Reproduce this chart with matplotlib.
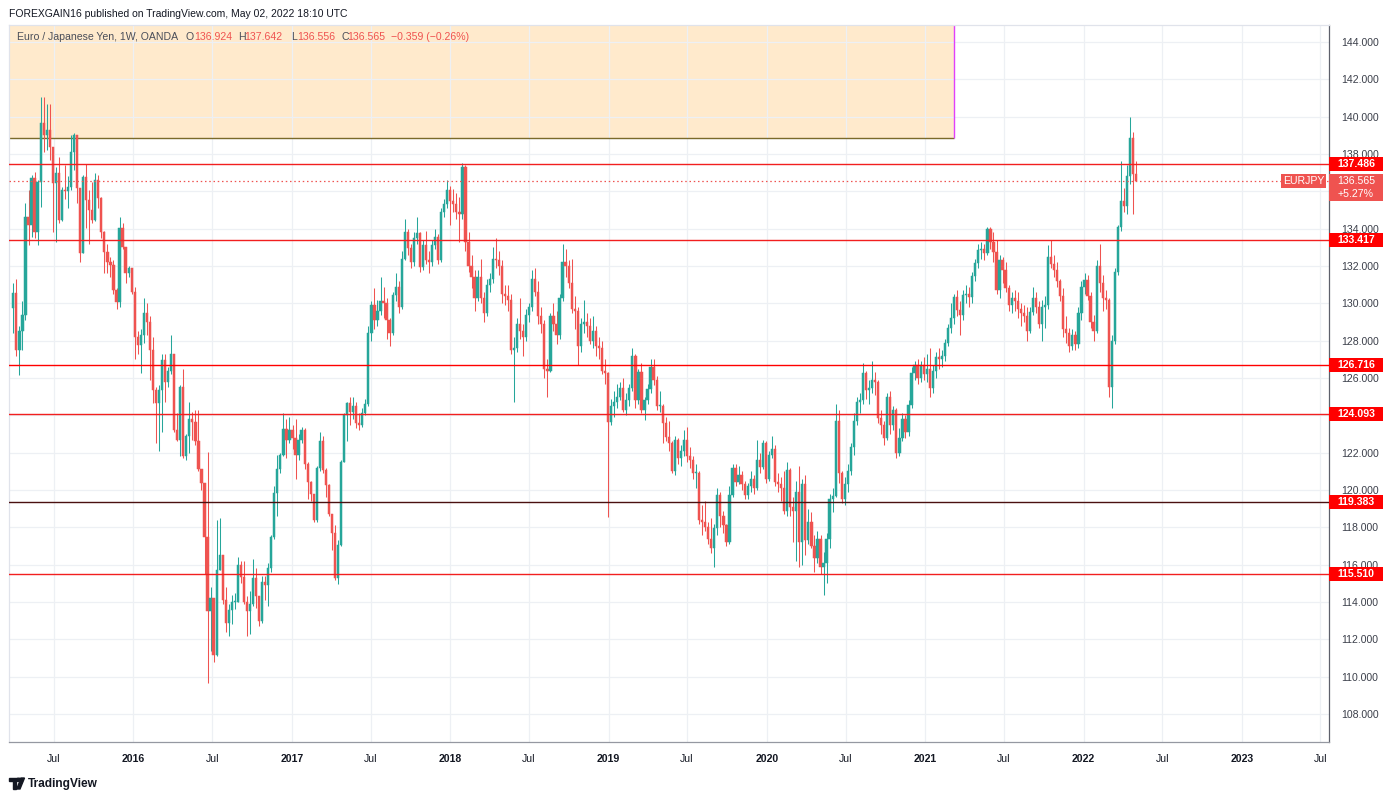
import numpy as np
import pandas as pd
import matplotlib
matplotlib.use("Agg")
import matplotlib.pyplot as plt
import matplotlib.dates as mdates
from matplotlib.patches import Rectangle, Polygon, Circle
from matplotlib.transforms import blended_transform_factory

plt.rcParams['font.family'] = ['Liberation Sans', 'DejaVu Sans']

W, H = 1397, 800

# =============================================================================
# Data: EURJPY weekly candles (OANDA), weeks starting 2015-03-30 .. 2022-05-02
# open of each week = close of the week before
# =============================================================================
FIRST_WEEK = "2015-03-30"
FIRST_OPEN = 129.73

closes = [
    # 2015
    130.57, 127.50, 128.50, 129.40, 134.64, 134.20, 136.70, 133.84, 136.52, 139.64,
    139.02, 139.29, 138.40, 136.43, 136.97, 134.47, 136.07, 136.00, 136.25, 138.13,
    139.02, 136.16, 132.68, 136.75, 135.54, 135.00, 134.47, 136.60, 135.63, 133.84,
    132.77, 132.23, 132.05, 130.70, 130.05, 134.02, 133.04, 131.61, 131.88, 130.63,
    # 2016
    128.20, 127.77, 128.30, 129.50, 129.00, 127.50, 125.36, 124.64, 125.36, 126.96,
    125.80, 126.35, 127.30, 123.20, 122.70, 125.50, 121.80, 122.90, 123.80, 123.65,
    122.60, 121.10, 120.35, 117.50, 113.50, 114.20, 111.16, 115.70, 116.50, 114.10,
    112.90, 113.57, 114.00, 114.00, 116.00, 115.36, 114.00, 113.50, 113.90, 115.27,
    114.30, 113.00, 115.09, 114.90, 115.80, 117.50, 119.82, 121.10, 121.87, 123.25,
    # 2017
    122.70, 123.20, 122.80, 121.87, 122.70, 123.20, 121.40, 120.45, 119.77, 118.39,
    121.16, 122.60, 121.07, 120.27, 118.70, 117.68, 115.27, 117.05, 121.52, 124.00,
    124.64, 124.20, 124.50, 123.57, 123.50, 124.10, 124.60, 128.40, 129.90, 129.10,
    129.60, 130.10, 130.00, 129.10, 128.40, 130.45, 130.85, 129.80, 132.40, 133.84,
    132.95, 132.20, 133.50, 133.75, 131.96, 133.10, 132.30, 132.20, 133.10, 133.55,
    132.30, 134.90, 135.30, 136.07, 135.50, 135.30,
    # 2018
    134.90, 134.80, 137.29, 133.30,
    132.00, 131.40, 130.30, 131.40, 130.30, 129.50, 131.00, 131.30, 132.40, 132.30,
    132.00, 130.50, 130.40, 130.20, 127.50, 127.60, 128.90, 128.50, 128.20, 129.40,
    129.80, 131.30, 130.60, 129.30, 128.90, 126.50, 126.40, 129.30, 128.90, 128.30,
    130.30, 132.20, 132.00, 131.10, 129.70, 129.60, 127.70, 128.90, 129.00, 128.80,
    128.00, 128.50, 127.70, 127.60, 126.40, 126.25,
    # 2019
    123.66, 124.50, 124.70, 125.00,
    125.45, 124.30, 124.80, 125.45, 127.20, 124.80, 126.30, 124.30, 124.80, 125.40,
    126.60, 125.90, 124.50, 124.50, 123.60, 122.86, 122.50, 121.00, 122.70, 121.70,
    122.10, 122.70, 121.80, 121.60, 120.90, 120.90, 118.40, 118.30, 118.00, 117.40,
    116.90, 117.95, 119.73, 118.60, 118.10, 117.20, 119.73, 121.16, 120.45, 120.80,
    120.30, 119.73, 120.20, 120.60, 120.10, 121.60, 121.25, 122.50,
    # 2020
    120.60, 121.90,
    122.20, 120.45, 120.30, 120.10, 118.90, 121.07, 119.10, 118.90, 119.90, 117.20,
    120.30, 117.30, 118.30, 117.00, 116.34, 117.40, 115.90, 116.10, 117.40, 119.50,
    119.70, 123.70, 120.90, 119.50, 120.30, 121.00, 122.30, 123.70, 124.70, 124.80,
    126.25, 125.36, 125.45, 125.90, 125.80, 123.84, 123.50, 122.80, 125.00, 123.50,
    124.30, 122.00, 122.80, 123.80, 123.10, 124.55, 126.25, 126.70, 126.00, 126.70,
    # 2021
    126.20, 126.50, 125.45, 126.40, 127.10, 127.00, 127.20, 127.86, 128.66, 129.20,
    130.36, 129.64, 129.40, 130.45, 130.50, 130.35, 131.46, 132.14, 132.86, 132.90,
    132.70, 133.96, 133.30, 132.77, 130.70, 132.30, 131.80, 130.80, 129.90, 130.30,
    130.10, 129.70, 129.50, 129.30, 128.50, 129.55, 130.30, 129.80, 128.90, 129.80,
    129.90, 132.50, 132.10, 131.80, 131.20, 130.40, 128.60, 128.40, 127.70, 128.30,
    127.80, 129.50,
    # 2022
    130.90, 131.25, 130.40, 129.00, 128.50, 132.00, 131.10, 130.30,
    130.20, 125.50, 128.00, 131.70, 134.10, 135.50, 135.20, 136.80, 138.84, 136.924,
    136.565,
]

highs = [
    131.07, 131.30, 128.80, 130.14, 135.36, 136.07, 136.88, 137.05, 136.61, 141.07,
    141.07, 140.70, 140.70, 138.40, 137.30, 137.86, 136.25, 137.40, 136.80, 139.00,
    139.10, 139.02, 136.16, 136.90, 137.47, 136.07, 136.50, 136.97, 136.88, 135.70,
    133.90, 133.20, 132.50, 132.30, 130.80, 134.64, 134.30, 133.04, 132.00, 131.90,
    130.90, 128.50, 128.60, 130.30, 130.00, 129.30, 128.20, 125.50, 125.60, 127.30,
    127.30, 126.60, 128.30, 127.30, 124.10, 125.60, 126.50, 123.00, 124.70, 124.20,
    124.30, 124.30, 121.10, 120.40, 122.05, 114.80, 114.20, 118.40, 118.50, 116.50,
    114.80, 113.90, 114.40, 114.50, 116.40, 116.20, 116.20, 114.30, 114.60, 116.30,
    115.80, 114.30, 115.40, 115.40, 116.10, 117.60, 120.20, 121.90, 122.00, 124.10,
    123.80, 123.90, 123.50, 123.80, 123.00, 123.40, 123.30, 121.50, 120.50, 119.80,
    121.30, 123.10, 122.90, 121.20, 120.30, 118.70, 118.10, 117.30, 121.60, 124.10,
    124.70, 125.00, 125.00, 124.70, 124.10, 124.40, 124.90, 128.80, 130.10, 130.80,
    130.20, 131.40, 130.90, 130.30, 129.20, 130.60, 131.60, 131.20, 132.80, 134.50,
    134.00, 133.20, 133.80, 134.60, 133.80, 133.40, 133.90, 132.80, 133.40, 134.00,
    133.70, 135.10, 135.60, 136.60, 136.30, 136.10, 135.90, 135.70, 137.50, 137.40,
    133.80, 132.60, 131.80, 131.80, 132.40, 130.60, 131.30, 131.60, 133.00, 133.50,
    132.80, 132.30, 131.00, 131.00, 130.50, 128.20, 129.20, 130.30, 128.90, 129.70,
    130.00, 131.80, 131.90, 131.20, 129.80, 129.10, 127.00, 129.50, 130.00, 129.60,
    130.50, 133.20, 132.90, 132.30, 132.40, 130.40, 129.80, 129.20, 130.20, 129.50,
    129.20, 129.30, 128.80, 128.20, 128.00, 127.00, 126.30, 124.90, 125.30, 125.70,
    125.80, 125.98, 125.20, 125.70, 127.60, 127.30, 126.50, 126.80, 125.00, 125.70,
    127.00, 127.00, 126.10, 125.30, 124.60, 123.90, 123.70, 122.60, 122.90, 122.80,
    122.40, 123.20, 123.40, 122.30, 121.80, 121.40, 121.00, 119.20, 119.40, 118.30,
    118.50, 118.20, 120.10, 119.90, 118.90, 118.20, 120.20, 121.40, 121.40, 121.30,
    121.00, 120.50, 120.40, 121.00, 120.80, 122.70, 122.00, 122.70, 122.60, 122.10,
    122.90, 122.40, 120.90, 120.70, 121.00, 121.50, 121.20, 119.60, 120.50, 121.30,
    120.60, 120.80, 119.00, 118.80, 117.60, 117.80, 117.60, 116.70, 117.70, 119.80,
    120.10, 124.60, 124.30, 121.00, 120.70, 121.40, 122.50, 124.10, 125.00, 125.20,
    126.80, 126.40, 125.90, 126.90, 126.30, 125.90, 124.30, 123.70, 125.20, 125.30,
    124.50, 124.40, 123.30, 124.10, 124.00, 124.80, 126.60, 126.90, 127.00, 126.90,
    127.10, 127.30, 127.60, 126.70, 127.40, 127.60, 127.50, 128.10, 128.90, 130.00,
    130.50, 130.70, 130.10, 130.70, 131.00, 130.90, 131.70, 132.40, 133.20, 133.30,
    133.20, 134.10, 134.10, 133.80, 133.40, 132.60, 132.50, 132.20, 131.00, 130.60,
    130.70, 130.60, 130.00, 129.90, 129.80, 129.80, 130.90, 130.60, 130.10, 130.20,
    130.40, 133.10, 133.40, 132.60, 132.20, 131.30, 130.80, 129.30, 128.70, 128.60,
    128.50, 129.80, 131.20, 131.60, 131.50, 130.60, 129.40, 132.30, 133.20, 131.50,
    130.70, 130.30, 128.30, 131.90, 134.20, 137.60, 136.20, 137.40, 140.00, 139.20,
    137.642,
]

lows = [
    128.43, 127.20, 126.16, 127.50, 129.10, 133.13, 133.57, 133.48, 133.13, 135.18,
    138.13, 138.20, 137.70, 133.84, 133.30, 134.30, 134.40, 135.60, 135.10, 136.07,
    137.15, 135.36, 132.23, 132.68, 134.02, 133.20, 134.30, 134.40, 135.10, 133.50,
    131.61, 131.60, 131.40, 130.50, 129.70, 129.80, 132.90, 131.08, 131.40, 130.50,
    127.00, 127.30, 126.25, 127.90, 128.30, 125.90, 124.64, 122.50, 122.10, 123.10,
    124.70, 125.50, 126.20, 123.10, 122.60, 121.80, 121.70, 121.60, 122.00, 122.70,
    122.40, 121.00, 120.00, 115.50, 109.64, 111.40, 110.80, 111.10, 115.70, 113.90,
    112.40, 112.20, 112.80, 113.60, 114.00, 115.00, 113.90, 112.20, 112.30, 113.80,
    113.70, 112.70, 112.90, 114.10, 113.80, 115.60, 117.40, 118.60, 120.90, 121.80,
    121.70, 122.50, 122.20, 120.60, 121.60, 122.50, 121.10, 119.50, 119.40, 118.30,
    118.30, 121.00, 120.90, 119.60, 118.60, 116.80, 115.20, 114.95, 117.00, 121.50,
    122.60, 123.50, 123.80, 123.30, 123.20, 123.40, 124.00, 124.50, 128.00, 128.60,
    128.80, 129.40, 129.20, 128.10, 127.70, 128.30, 130.10, 129.50, 129.70, 132.30,
    132.60, 131.90, 132.00, 133.20, 131.70, 131.80, 132.10, 131.60, 132.00, 132.90,
    132.10, 132.20, 134.60, 135.10, 134.20, 134.90, 134.50, 133.30, 134.50, 132.80,
    131.70, 130.80, 129.60, 130.10, 130.00, 129.00, 129.30, 130.60, 131.10, 131.90,
    131.50, 130.00, 129.90, 129.60, 127.30, 124.70, 127.40, 128.10, 127.20, 128.00,
    129.00, 129.60, 130.40, 128.90, 128.40, 126.00, 125.00, 126.30, 128.50, 127.80,
    128.10, 130.10, 131.40, 130.80, 129.50, 128.60, 126.70, 127.40, 128.40, 128.20,
    127.80, 127.60, 127.20, 127.00, 126.20, 125.70, 118.57, 123.50, 123.90, 124.40,
    124.80, 124.20, 124.00, 124.50, 125.30, 124.40, 124.60, 124.10, 123.75, 124.60,
    125.20, 125.60, 124.30, 124.20, 122.50, 122.60, 122.10, 120.90, 120.80, 121.40,
    121.30, 121.80, 121.50, 121.20, 120.60, 120.10, 118.20, 117.60, 117.80, 117.10,
    116.60, 115.90, 117.60, 118.00, 117.70, 117.00, 117.10, 119.60, 120.20, 120.30,
    120.00, 119.50, 119.50, 119.90, 119.80, 120.00, 120.90, 121.10, 120.40, 120.50,
    121.70, 120.20, 119.90, 119.40, 118.70, 118.60, 118.60, 117.20, 116.20, 115.90,
    116.00, 116.50, 117.10, 116.90, 115.60, 116.10, 115.50, 114.40, 115.00, 116.90,
    118.80, 119.60, 120.40, 119.30, 119.20, 119.90, 120.80, 121.90, 123.50, 124.10,
    124.60, 124.90, 124.60, 125.20, 125.10, 123.60, 123.00, 122.40, 122.70, 123.00,
    123.20, 121.70, 121.80, 122.60, 122.80, 122.90, 124.40, 125.90, 125.70, 125.80,
    125.90, 125.80, 125.00, 125.20, 126.00, 126.50, 126.60, 126.90, 127.70, 128.40,
    128.90, 129.30, 128.30, 129.10, 130.00, 129.80, 130.00, 131.20, 131.90, 132.40,
    132.30, 132.60, 132.90, 132.20, 130.50, 130.30, 131.10, 130.60, 129.60, 129.50,
    129.60, 129.20, 128.80, 129.00, 128.00, 128.40, 129.40, 129.50, 128.70, 128.00,
    128.70, 129.70, 131.90, 131.40, 130.90, 130.10, 128.20, 127.90, 127.40, 127.50,
    127.50, 127.60, 129.10, 130.50, 130.20, 128.70, 128.00, 128.40, 130.60, 129.60,
    129.70, 125.00, 124.40, 127.80, 131.50, 133.90, 134.90, 134.80, 136.40, 134.80,
    136.556,
]

# support / resistance levels drawn by the author
levels = [137.486, 133.417, 126.716, 124.093, 119.383, 115.510]
level_colors = ["#f21f1f", "#f21f1f", "#ff0000", "#f21f1f", "#4a1010", "#f21f1f"]

# supply zone box (top left)
zone_low = 138.88
zone_end = "2021-03-08"

last_price = 136.565
last_change = "+5.27%"

tick_dates = ["2015-07-01", "2016-01-01", "2016-07-01", "2017-01-01", "2017-07-01",
              "2018-01-01", "2018-07-01", "2019-01-01", "2019-07-01", "2020-01-01",
              "2020-07-01", "2021-01-01", "2021-07-01", "2022-01-01", "2022-07-01",
              "2023-01-01", "2023-07-01"]
tick_labels = ["Jul", "2016", "Jul", "2017", "Jul", "2018", "Jul", "2019", "Jul",
               "2020", "Jul", "2021", "Jul", "2022", "Jul", "2023", "Jul"]
price_ticks = list(range(108, 146, 2))
# scale labels that sit completely under a price tag
hidden_ticks = [124, 136]

UP = "#26a69a"
DOWN = "#ef5350"
TXT = "#131722"

# =============================================================================
# Candles
# =============================================================================
closes = np.array(closes)
highs = np.array(highs)
lows = np.array(lows)
opens = np.r_[FIRST_OPEN, closes[:-1]]
dates = pd.date_range(FIRST_WEEK, periods=len(closes), freq="7D")
x = mdates.date2num(dates.to_pydatetime())
colors = np.where(closes >= opens, UP, DOWN)

fig = plt.figure(figsize=(W / 100, H / 100), dpi=100)
ax = fig.add_axes([9 / W, (H - 742) / H, 1320 / W, 717 / H])

xmin = mdates.date2num(pd.Timestamp("2015-03-20"))
xmax = mdates.date2num(pd.Timestamp("2023-07-21"))
ymin, ymax = 106.5, 144.91
ax.set_xlim(xmin, xmax)
ax.set_ylim(ymin, ymax)

ax.vlines(x, lows, highs, colors=colors, linewidth=0.75, zorder=3)
body_lo = np.minimum(opens, closes)
body_h = np.maximum(np.abs(closes - opens), 0.05)
ax.bar(x, body_h, bottom=body_lo, width=5.2, color=colors, edgecolor=colors,
       linewidth=0.35, zorder=3)

# ── supply zone ──────────────────────────────────────────────────────────────
z_end = mdates.date2num(pd.Timestamp(zone_end))
ax.add_patch(Rectangle((xmin, zone_low), z_end - xmin, 20, facecolor="#ffeacc",
                       edgecolor="none", zorder=1))
ax.hlines(zone_low, xmin, z_end, color="#7a6a2a", lw=1.0, zorder=2)
ax.vlines(z_end, zone_low, ymax, color="#e040fb", lw=1.0, zorder=2)

# ── levels ───────────────────────────────────────────────────────────────────
for lvl, col in zip(levels, level_colors):
    ax.axhline(lvl, color=col, lw=1.0, zorder=4)
ax.axhline(last_price, color=DOWN, lw=0.9, ls=(0, (1.2, 2.2)), zorder=4)

# ── grid / axes ──────────────────────────────────────────────────────────────
ax.set_xticks([mdates.date2num(pd.Timestamp(d)) for d in tick_dates])
ax.set_xticklabels(tick_labels)
for lab, t in zip(ax.get_xticklabels(), tick_labels):
    if t != "Jul":
        lab.set_fontweight("bold")
ax.yaxis.tick_right()
ax.set_yticks(price_ticks)
ax.set_yticklabels(["" if v in hidden_ticks else f"{v:.3f}" for v in price_ticks])
ax.tick_params(axis='x', length=0, pad=9, labelsize=7.6, labelcolor=TXT)
ax.tick_params(axis='y', length=0, pad=9, labelsize=7.6, labelcolor="#3b3f4a")
ax.grid(True, color="#edf0f4", lw=0.9)

ax.spines['right'].set_color("#5d606b")
ax.spines['bottom'].set_color("#9598a1")
ax.spines['left'].set_color("#e0e3eb")
ax.spines['top'].set_color("#e0e3eb")
for s in ax.spines.values():
    s.set_linewidth(0.9)

# ── price tags on the right scale ────────────────────────────────────────────
trans = blended_transform_factory(ax.transAxes, ax.transData)
ppx = (ymax - ymin) / 717.0          # price per pixel
bw = 54 / 1320.0                     # tag width in axes fraction

for lvl in levels:
    ax.add_patch(Rectangle((1.0, lvl - 7 * ppx), bw, 14 * ppx, transform=trans,
                           facecolor="#ff0000", edgecolor="none", clip_on=False,
                           zorder=10))
    ax.text(1.0 + bw / 2, lvl, f"{lvl:.3f}", transform=trans, ha='center',
            va='center', color="white", fontsize=7.6, fontweight='bold',
            clip_on=False, zorder=11)

ax.add_patch(Rectangle((1.0, last_price - 20 * ppx), bw, 27 * ppx, transform=trans,
                       facecolor=DOWN, edgecolor="none", clip_on=False, zorder=10))
ax.text(1.0 + bw / 2, last_price, f"{last_price:.3f}", transform=trans,
        ha='center', va='center', color="white", fontsize=7.6, clip_on=False,
        zorder=11)
ax.text(1.0 + bw / 2, last_price - 13 * ppx, last_change, transform=trans,
        ha='center', va='center', color="white", fontsize=7.6, clip_on=False,
        zorder=11)

tag_l = (1281 - 9) / 1320.0
tag_w = 45 / 1320.0
ax.add_patch(Rectangle((tag_l, last_price - 7 * ppx), tag_w, 14 * ppx,
                       transform=trans, facecolor=DOWN, edgecolor="none",
                       clip_on=False, zorder=10))
ax.text(tag_l + tag_w / 2, last_price, "EURJPY", transform=trans, ha='center',
        va='center', color="white", fontsize=7.6, clip_on=False, zorder=11)

# ── header texts ─────────────────────────────────────────────────────────────
def fx(px):
    return px / W


def fy(py):
    return 1 - py / H


fig.text(fx(9), fy(14), "FOREXGAIN16 published on TradingView.com, May 02, 2022 18:10 UTC",
         fontsize=7.5, color=TXT, va='center', ha='left')

legend_parts = [
    (17, "Euro / Japanese Yen, 1W, OANDA", "#4a4e59"),
    (186, "O", "#4a4e59"), (194, "136.924", DOWN),
    (238, "H", "#4a4e59"), (244, "137.642", DOWN),
    (291, "L", "#4a4e59"), (297.5, "136.556", DOWN),
    (341, "C", "#4a4e59"), (347, "136.565", DOWN),
    (391, "\u22120.359 (\u22120.26%)", DOWN),
]
for px, s, c in legend_parts:
    fig.text(fx(px), fy(37), s, fontsize=7.6, color=c, va='center', ha='left')

# ── TradingView footer ───────────────────────────────────────────────────────
fig.add_artist(Polygon([(fx(9), fy(778)), (fx(16), fy(778)), (fx(16), fy(789)),
                        (fx(13), fy(789)), (fx(13), fy(781)), (fx(9), fy(781))],
                       closed=True, transform=fig.transFigure, color=TXT))
fig.add_artist(Circle((fx(18.5), fy(779.8)), 1.6 / H, transform=fig.transFigure,
                      color=TXT))
fig.add_artist(Polygon([(fx(21), fy(778)), (fx(24.5), fy(778)), (fx(20), fy(789)),
                        (fx(16.8), fy(789))], closed=True,
                       transform=fig.transFigure, color=TXT))
fig.text(fx(28), fy(783.5), "TradingView", fontsize=8.6, color=TXT, va='center',
         ha='left', fontweight='bold')

fig.savefig("out.png", dpi=100)
